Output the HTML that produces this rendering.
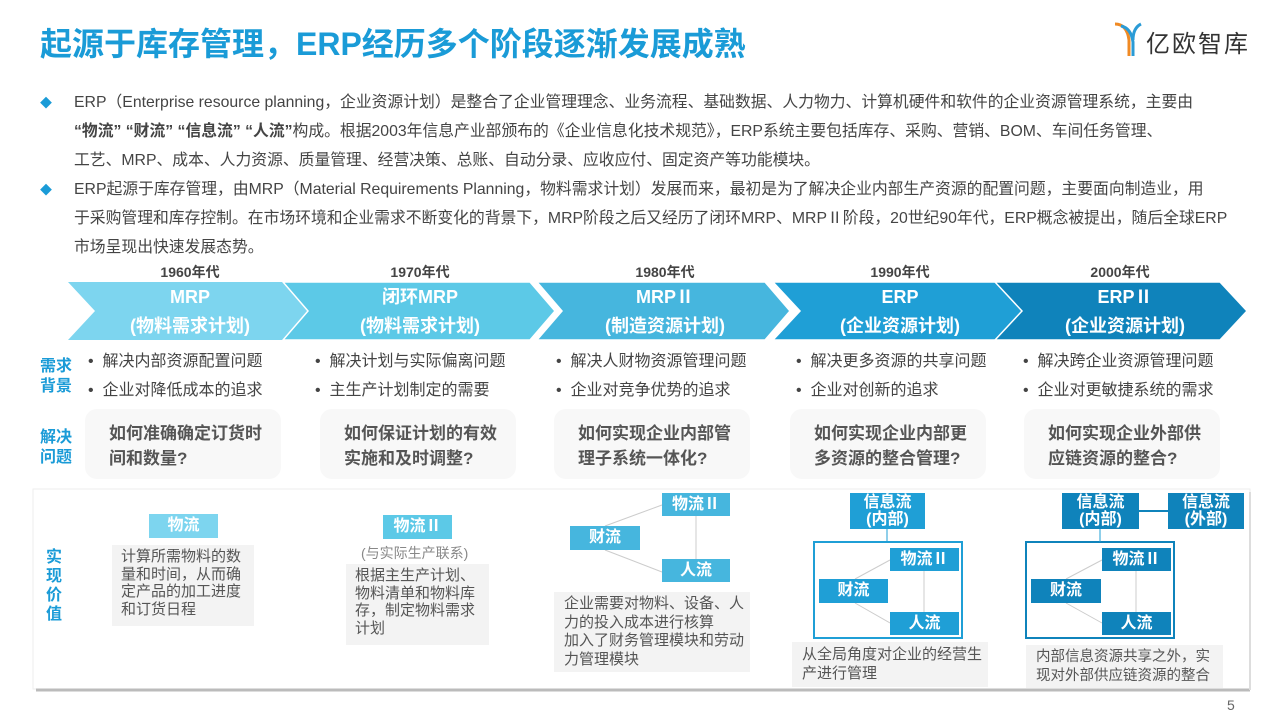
<!DOCTYPE html>
<html><head><meta charset="utf-8"><style>
*{margin:0;padding:0;box-sizing:border-box}
body{width:1280px;height:720px;background:#fff;position:relative;overflow:hidden;font-family:"Liberation Sans","Noto Sans CJK SC",sans-serif;color:#444}
.a{position:absolute;white-space:nowrap}
.t{font-size:16px;color:#444;line-height:29px}
.lbl{color:#1a9bd7;font-weight:bold;font-size:16px;line-height:20px}
.q{position:absolute;background:#f8f8f8;border-radius:12px;width:196px;height:70px;padding:12px 0 0 24px;font-weight:bold;font-size:17px;color:#555;line-height:25px}
.b{position:absolute;color:#fff;font-weight:bold;font-size:16px;text-align:center;line-height:23px}
.g{position:absolute;background:#f3f3f3;font-size:15px;color:#555;line-height:19px;padding:3px 9px;white-space:normal}
.g2{padding:3px 5px 3px 10px}
.yr{position:absolute;font-size:14px;font-weight:bold;color:#444;width:120px;text-align:center;top:262px}
</style></head><body>
<div class="a" style="left:40px;top:19px;font-size:32px;font-weight:bold;color:#1a9bd7">起源于库存管理，ERP经历多个阶段逐渐发展成熟</div>
<svg class="a" style="left:1113px;top:20px" width="30" height="36"><path d="M2 4 Q14 4 16 20 L16 36" stroke="#f08a24" stroke-width="3" fill="none"/><path d="M8 6 Q18 8 20 22 L20 36" stroke="#2a9bd6" stroke-width="3" fill="none"/><path d="M28 4 Q20 8 20 20" stroke="#2a9bd6" stroke-width="3" fill="none"/></svg>
<div class="a" style="left:1146px;top:24px;font-size:24px;color:#333;letter-spacing:2px">亿欧智库</div>

<div class="a" style="left:40px;top:94px;color:#1a9bd7;font-size:12px">◆</div>
<div class="a" style="left:40px;top:181px;color:#1a9bd7;font-size:12px">◆</div>
<div class="a" style="left:74px;top:88px;font-size:15.8px;line-height:29px;color:#444">ERP（Enterprise resource planning，企业资源计划）是整合了企业管理理念、业务流程、基础数据、人力物力、计算机硬件和软件的企业资源管理系统，主要由<br><b>“物流” “财流” “信息流” “人流”</b>构成。根据2003年信息产业部颁布的《企业信息化技术规范》，ERP系统主要包括库存、采购、营销、BOM、车间任务管理、<br>工艺、MRP、成本、人力资源、质量管理、经营决策、总账、自动分录、应收应付、固定资产等功能模块。<br>ERP起源于库存管理，由MRP（Material Requirements Planning，物料需求计划）发展而来，最初是为了解决企业内部生产资源的配置问题，主要面向制造业，用<br>于采购管理和库存控制。在市场环境和企业需求不断变化的背景下，MRP阶段之后又经历了闭环MRP、MRPⅡ阶段，20世纪90年代，ERP概念被提出，随后全球ERP<br>市场呈现出快速发展态势。</div>

<div class="yr" style="left:130px">1960年代</div>
<div class="yr" style="left:360px">1970年代</div>
<div class="yr" style="left:605px">1980年代</div>
<div class="yr" style="left:840px">1990年代</div>
<div class="yr" style="left:1060px">2000年代</div>
<svg class="a" style="left:0;top:0" width="1280" height="720">
<polygon points="68,282 290,282 315,311 290,340 68,340 95,311" fill="#7dd5ef"/>
<polygon points="283,282 530,282 555,311 530,340 283,340 308,311" fill="#5cc9e7" stroke="#fff" stroke-width="1.5"/>
<polygon points="537,282 765,282 790,311 765,340 537,340 562,311" fill="#46b6de" stroke="#fff" stroke-width="1.5"/>
<polygon points="773,282 1000,282 1027,311 1000,340 773,340 800,311" fill="#1f9fd6" stroke="#fff" stroke-width="1.5"/>
<polygon points="995,282 1220,282 1247,311 1220,340 995,340 1022,311" fill="#0f83bb" stroke="#fff" stroke-width="1.5"/>
<rect x="33" y="489" width="1217" height="200" fill="#fff" stroke="#eee"/>
<line x1="36" y1="690" x2="1250" y2="690" stroke="#bbb" stroke-width="3"/>
<line x1="1250" y1="492" x2="1250" y2="690" stroke="#ddd" stroke-width="2"/>
<g stroke="#ccc" stroke-width="1" fill="none">
<line x1="605" y1="526" x2="662" y2="505"/><line x1="605" y1="550" x2="662" y2="572"/><line x1="696" y1="516" x2="696" y2="559"/>
<line x1="855" y1="579" x2="890" y2="560"/><line x1="855" y1="603" x2="890" y2="623"/><line x1="924" y1="571" x2="924" y2="612"/>
<line x1="1066" y1="579" x2="1102" y2="560"/><line x1="1066" y1="603" x2="1102" y2="623"/><line x1="1136" y1="571" x2="1136" y2="612"/>
</g>
<rect x="814" y="542" width="148" height="96" fill="none" stroke="#1f9fd6" stroke-width="2"/>
<line x1="887" y1="529" x2="887" y2="542" stroke="#1f9fd6"/>
<rect x="1026" y="542" width="148" height="96" fill="none" stroke="#0f83bb" stroke-width="2"/>
<line x1="1100" y1="529" x2="1100" y2="542" stroke="#1f9fd6"/>
<line x1="1139" y1="511" x2="1168" y2="511" stroke="#0f83bb" stroke-width="2"/>
</svg>
<div class="b" style="left:80px;top:283px;width:220px;font-size:18px;line-height:29px">MRP<br>(物料需求计划)</div>
<div class="b" style="left:310px;top:283px;width:220px;font-size:18px;line-height:29px">闭环MRP<br>(物料需求计划)</div>
<div class="b" style="left:555px;top:283px;width:220px;font-size:18px;line-height:29px">MRPⅡ<br>(制造资源计划)</div>
<div class="b" style="left:790px;top:283px;width:220px;font-size:18px;line-height:29px">ERP<br>(企业资源计划)</div>
<div class="b" style="left:1015px;top:283px;width:220px;font-size:18px;line-height:29px">ERPⅡ<br>(企业资源计划)</div>

<div class="a lbl" style="left:40px;top:357px">需求<br>背景</div>
<div class="a lbl" style="left:40px;top:428px">解决<br>问题</div>
<div class="a lbl" style="left:46px;top:548px;line-height:19px">实<br>现<br>价<br>值</div>

<div class="a t" style="left:88px;top:347px">•&nbsp;&nbsp;解决内部资源配置问题<br>•&nbsp;&nbsp;企业对降低成本的追求</div>
<div class="a t" style="left:315px;top:347px">•&nbsp;&nbsp;解决计划与实际偏离问题<br>•&nbsp;&nbsp;主生产计划制定的需要</div>
<div class="a t" style="left:556px;top:347px">•&nbsp;&nbsp;解决人财物资源管理问题<br>•&nbsp;&nbsp;企业对竞争优势的追求</div>
<div class="a t" style="left:796px;top:347px">•&nbsp;&nbsp;解决更多资源的共享问题<br>•&nbsp;&nbsp;企业对创新的追求</div>
<div class="a t" style="left:1023px;top:347px">•&nbsp;&nbsp;解决跨企业资源管理问题<br>•&nbsp;&nbsp;企业对更敏捷系统的需求</div>

<div class="q" style="left:85px;top:409px">如何准确确定订货时<br>间和数量?</div>
<div class="q" style="left:320px;top:409px">如何保证计划的有效<br>实施和及时调整?</div>
<div class="q" style="left:554px;top:409px">如何实现企业内部管<br>理子系统一体化?</div>
<div class="q" style="left:790px;top:409px">如何实现企业内部更<br>多资源的整合管理?</div>
<div class="q" style="left:1024px;top:409px">如何实现企业外部供<br>应链资源的整合?</div>

<div class="b" style="left:149px;top:514px;width:69px;height:24px;background:#7dd5ef">物流</div>
<div class="g" style="left:112px;top:545px;width:142px;height:81px;line-height:17.5px">计算所需物料的数量和时间，从而确定产品的加工进度和订货日程</div>
<div class="b" style="left:383px;top:515px;width:69px;height:24px;background:#5cc9e7">物流Ⅱ</div>
<div class="a" style="left:361px;top:543px;font-size:14px;color:#888">(与实际生产联系)</div>
<div class="g" style="left:346px;top:564px;width:143px;height:81px;line-height:17.5px">根据主生产计划、物料清单和物料库存，制定物料需求计划</div>

<div class="b" style="left:662px;top:493px;width:68px;height:23px;background:#46b6de">物流Ⅱ</div>
<div class="b" style="left:570px;top:526px;width:70px;height:24px;background:#46b6de">财流</div>
<div class="b" style="left:662px;top:559px;width:68px;height:23px;background:#46b6de">人流</div>
<div class="g g2" style="left:554px;top:592px;width:196px;height:80px;line-height:18.5px">企业需要对物料、设备、人力的投入成本进行核算<br>加入了财务管理模块和劳动力管理模块</div>

<div class="b" style="left:850px;top:493px;width:75px;height:36px;background:#1f9fd6;line-height:17px;padding-top:1px">信息流<br>(内部)</div>
<div class="b" style="left:890px;top:548px;width:69px;height:23px;background:#1f9fd6">物流Ⅱ</div>
<div class="b" style="left:819px;top:579px;width:69px;height:24px;background:#1f9fd6">财流</div>
<div class="b" style="left:890px;top:612px;width:69px;height:23px;background:#1f9fd6">人流</div>
<div class="g g2" style="left:792px;top:642px;width:196px;height:45px;line-height:19px">从全局角度对企业的经营生产进行管理</div>

<div class="b" style="left:1062px;top:493px;width:77px;height:36px;background:#0f83bb;line-height:17px;padding-top:1px">信息流<br>(内部)</div>
<div class="b" style="left:1168px;top:493px;width:76px;height:36px;background:#0f83bb;line-height:17px;padding-top:1px">信息流<br>(外部)</div>
<div class="b" style="left:1102px;top:548px;width:69px;height:23px;background:#0f83bb">物流Ⅱ</div>
<div class="b" style="left:1031px;top:579px;width:70px;height:24px;background:#0f83bb">财流</div>
<div class="b" style="left:1102px;top:612px;width:69px;height:23px;background:#0f83bb">人流</div>
<div class="g g2" style="left:1026px;top:645px;width:197px;height:43px;font-size:14.5px;line-height:19px">内部信息资源共享之外，实现对外部供应链资源的整合</div>

<div class="a" style="left:1227px;top:697px;font-size:14px;color:#666">5</div>
</body></html>
